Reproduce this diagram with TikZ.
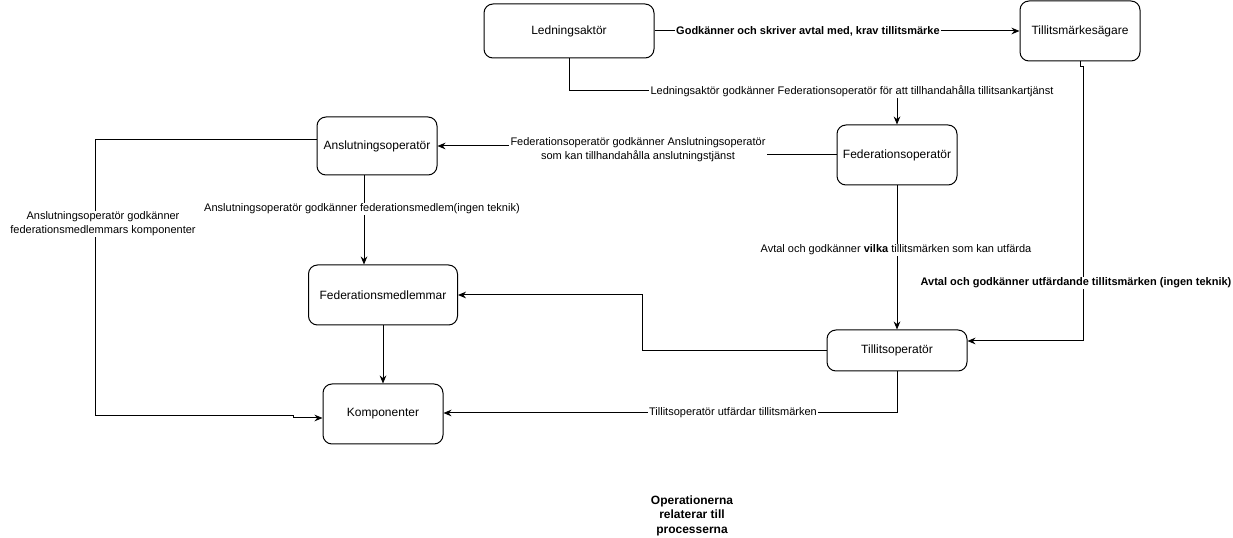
\documentclass[tikz,border=0pt]{standalone}
\usepackage{fontspec}
\setmainfont{Liberation Sans}
\usetikzlibrary{arrows.meta,calc}
\begin{document}
\begin{tikzpicture}[x=0.75pt,y=-0.75pt,
  box/.style={draw, line width=0.75pt, rounded corners=6.75pt, inner sep=0pt, align=center, font=\fontsize{9}{11}\selectfont},
  conn/.style={draw, line width=0.75pt, -{Stealth[length=6pt,width=5pt]}},
  line/.style={draw, line width=0.75pt},
  lbl/.style={fill=white, inner sep=1pt, align=center, font=\fontsize{8.25}{10.5}\selectfont},
  blbl/.style={lbl, font=\fontsize{8.25}{10.5}\selectfont\bfseries},
  note/.style={align=center, inner sep=0pt, font=\fontsize{9}{10.9}\selectfont\bfseries}
]
\useasboundingbox (0,0) rectangle (1233,538);

% nodes
\node[box, minimum width=127.5pt, minimum height=40.5pt] (la) at (569,31) {Ledningsaktör};
\node[box, minimum width=90pt, minimum height=45pt] (tm) at (1080,31) {Tillitsmärkesägare};
\node[box, minimum width=90pt, minimum height=43.5pt] (ao) at (377,146) {Anslutningsoperatör};
\node[box, minimum width=90pt, minimum height=45pt] (fo) at (897,155) {Federationsoperatör};
\node[box, minimum width=111.75pt, minimum height=45pt] (fm) at (383,295) {Federationsmedlemmar};
\node[box, minimum width=105pt, minimum height=30.75pt] (to) at (897,350.5) {Tillitsoperatör};
\node[box, minimum width=90pt, minimum height=45pt] (ko) at (383,414) {Komponenter};

% corner coordinates
\coordinate (c2) at (569,91);
\coordinate (c2b) at (897,91);
\coordinate (c3a) at (1080,67);
\coordinate (c3b) at (1083,67);
\coordinate (c3c) at (1083,341);
\coordinate (c4a) at (638,155);
\coordinate (c4b) at (638,146);
\coordinate (c6a) at (95,140);
\coordinate (c6b) at (95,416);
\coordinate (c6c) at (293,416);
\coordinate (c6d) at (293,418);
\coordinate (c9a) at (642,350.5);
\coordinate (c9b) at (642,295);
\coordinate (c10) at (897,413);

% connectors
\draw[conn] (la.east) -- (tm.west);
\draw[conn] (la.south) -- (c2) -- (c2b) -- (fo.north);
\draw[conn] (tm.south) -- (c3a) -- (c3b) -- (c3c) -- ($(to.east)+(0,-9.5)$);
\draw[conn] (fo.west) -- (c4a) -- (c4b) -- (ao.east);
\draw[conn] ($(ao.south)+(-13,0)$) -- ($(fm.north)+(-19,0)$);
\draw[conn] ($(ao.west)+(0,-6)$) -- (c6a) -- (c6b) -- (c6c) -- (c6d) -- ($(ko.west)+(0,4)$);
\draw[conn] (fm.south) -- (ko.north);
\draw[conn] (fo.south) -- (to.north);
\draw[conn] (to.west) -- (c9a) -- (c9b) -- (fm.east);
\draw[conn] (to.south) -- (c10) -- ($(ko.east)+(0,-1)$);

% labels
\node[blbl] (l1) at (808,31) {Godkänner och skriver avtal med, krav tillitsmärke};
\node[lbl] (l2) at (852,91) {Ledningsaktör godkänner Federationsoperatör för att tillhandahålla tillitsankartjänst};
\node[blbl] (l3) at (1076,283) {Avtal och godkänner utfärdande tillitsmärken (ingen teknik)};
\node[lbl] (l4) at (638,150) {Federationsoperatör godkänner Anslutningsoperatör\\som kan tillhandahålla anslutningstjänst};
\node[lbl] (l5) at (362,209) {Anslutningsoperatör godkänner federationsmedlem(ingen teknik)};
\node[lbl] (l6) at (103,224) {Anslutningsoperatör godkänner\\federationsmedlemmars komponenter};
\node[lbl] (l8) at (896,250) {Avtal och godkänner \textbf{vilka} tillitsmärken som kan utfärda};
\node[lbl] (l10) at (733,413) {Tillitsoperatör utfärdar tillitsmärken};

\node[note] (n1) at (692,515.5) {Operationerna\\relaterar till\\processerna};
\end{tikzpicture}
\end{document}
